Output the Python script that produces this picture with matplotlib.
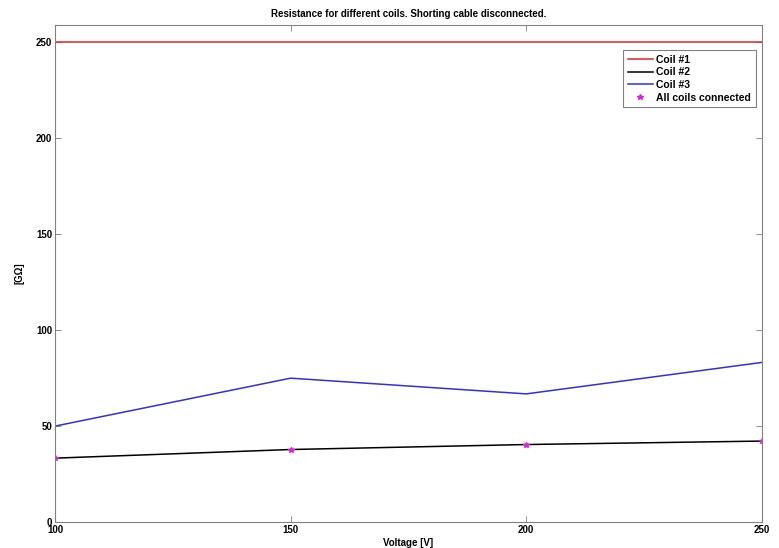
import numpy as np
import matplotlib.pyplot as plt

plt.rcParams['font.family'] = ['Liberation Sans', 'DejaVu Sans']
plt.rcParams['font.weight'] = 'bold'
plt.rcParams['font.size'] = 7

# Data
voltage = [100, 150, 200, 250]
coil1 = [250, 250, 250, 250]
coil2 = [33.3, 37.8, 40.4, 42.2]
coil3 = [50.0, 75.0, 66.8, 83.2]
all_coils = [33.3, 37.8, 40.4, 42.2]

fig = plt.figure(figsize=(7.79, 5.48), dpi=100)
ax = fig.add_axes([0.0706, 0.0474, 0.9074, 0.9066])

ax.plot(voltage, coil1, color='#e8202a', lw=1.1, label='Coil #1')
ax.plot(voltage, coil2, color='black', lw=1.1, label='Coil #2')
ax.plot(voltage, coil3, color='#3030e0', lw=1.1, label='Coil #3')
ax.plot(voltage, all_coils, ls='none', marker='*', ms=4, color='#e020e0',
        label='All coils connected')

ax.set_xlim(100, 250)
ax.set_ylim(0, 259)
ax.set_xticks([100, 150, 200, 250])
ax.set_yticks([0, 50, 100, 150, 200, 250])
ax.tick_params(direction='in', top=True, right=True, length=4, width=0.6,
               color='#808080', pad=2)
for s in ax.spines.values():
    s.set_color('#808080')
    s.set_linewidth(0.8)

ax.set_title('Resistance for different coils. Shorting cable disconnected.',
             fontweight='bold', fontsize=7, pad=6)
ax.set_xlabel('Voltage [V]', fontweight='bold', labelpad=2)
ax.set_ylabel('[G\u03a9]', fontweight='bold', labelpad=8)

leg = ax.legend(loc='upper right', bbox_to_anchor=(0.991, 0.95),
                borderaxespad=0, handlelength=2.4, handletextpad=0.3,
                borderpad=0.45, labelspacing=0.25, fancybox=False,
                framealpha=1, edgecolor='#808080', fontsize=7.5)
leg.get_frame().set_linewidth(0.8)

fig.savefig('out.png', dpi=100)
